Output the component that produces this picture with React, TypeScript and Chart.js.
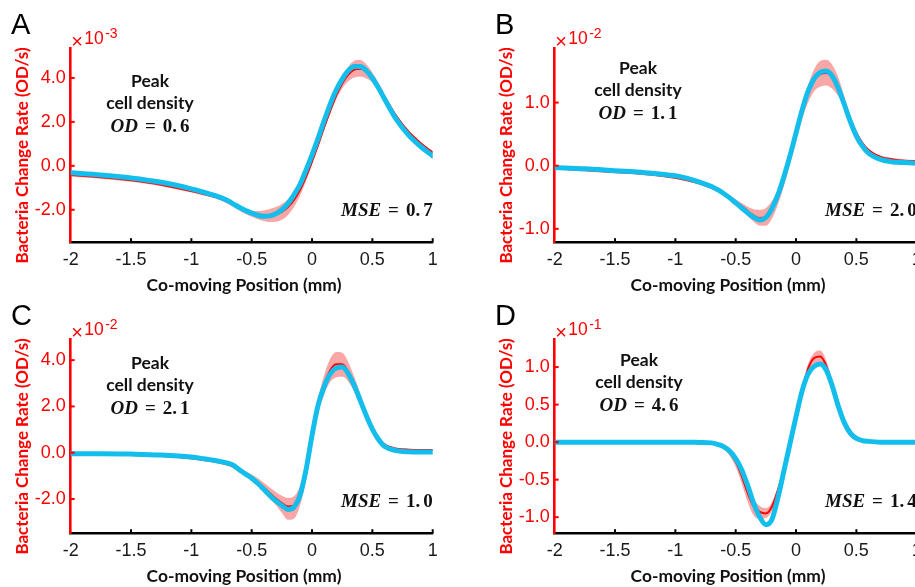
import { useEffect, useRef } from 'react';
import { Chart, registerables } from 'chart.js';

Chart.register(...registerables);

// Shared co-moving positions (mm)
const X_POS = [-2, -1.75, -1.5, -1.25, -1, -0.9, -0.8, -0.7, -0.65, -0.6, -0.55, -0.5, -0.45, -0.4, -0.35, -0.3, -0.25, -0.2, -0.15, -0.1, -0.05, 0, 0.05, 0.1, 0.15, 0.2, 0.25, 0.3, 0.35, 0.4, 0.45, 0.5, 0.55, 0.6, 0.7, 0.8, 0.9, 1];
const X_TICKS = [-2, -1.5, -1, -0.5, 0, 0.5, 1];

// Panel A (x1e-3)
const A_FIT = [-0.32, -0.42, -0.55, -0.75, -1.05, -1.2, -1.36, -1.58, -1.74, -1.9, -2.04, -2.15, -2.25, -2.3, -2.28, -2.18, -2.0, -1.72, -1.32, -0.85, -0.2, 0.5, 1.25, 2.05, 2.8, 3.45, 3.95, 4.33, 4.52, 4.52, 4.33, 4.0, 3.55, 3.05, 2.1, 1.4, 0.88, 0.45];
const A_MEAN = [-0.42, -0.52, -0.66, -0.86, -1.15, -1.28, -1.42, -1.64, -1.8, -1.95, -2.08, -2.18, -2.25, -2.28, -2.27, -2.22, -2.1, -1.88, -1.55, -1.1, -0.5, 0.2, 0.95, 1.75, 2.5, 3.2, 3.75, 4.15, 4.38, 4.42, 4.3, 4.02, 3.62, 3.15, 2.25, 1.55, 1.03, 0.6];
const A_UPPER = [-0.35, -0.45, -0.59, -0.79, -1.08, -1.21, -1.35, -1.57, -1.72, -1.86, -1.97, -2.04, -2.06, -2.03, -1.97, -1.88, -1.74, -1.52, -1.22, -0.85, -0.32, 0.35, 1.08, 1.88, 2.65, 3.38, 4.0, 4.5, 4.78, 4.82, 4.62, 4.25, 3.78, 3.27, 2.33, 1.62, 1.1, 0.67];
const A_LOWER = [-0.49, -0.59, -0.73, -0.93, -1.22, -1.35, -1.49, -1.71, -1.88, -2.04, -2.19, -2.32, -2.43, -2.51, -2.56, -2.55, -2.46, -2.25, -1.88, -1.36, -0.7, 0.05, 0.82, 1.62, 2.35, 3.02, 3.52, 3.85, 4.02, 4.05, 3.98, 3.8, 3.46, 3.03, 2.17, 1.48, 0.96, 0.53];
const A_Y_TICKS = [-2, 0, 2, 4];

// Panel B (x1e-2)
const B_FIT = [-0.03, -0.05, -0.08, -0.11, -0.16, -0.2, -0.26, -0.33, -0.38, -0.44, -0.51, -0.59, -0.67, -0.75, -0.82, -0.86, -0.82, -0.68, -0.46, -0.17, 0.16, 0.52, 0.88, 1.18, 1.38, 1.48, 1.5, 1.42, 1.23, 0.97, 0.7, 0.47, 0.31, 0.2, 0.1, 0.06, 0.05, 0.04];
const B_MEAN = [-0.04, -0.07, -0.1, -0.13, -0.19, -0.23, -0.28, -0.35, -0.39, -0.44, -0.5, -0.57, -0.64, -0.72, -0.79, -0.83, -0.81, -0.7, -0.5, -0.22, 0.11, 0.47, 0.84, 1.14, 1.35, 1.45, 1.47, 1.41, 1.25, 1.0, 0.74, 0.52, 0.36, 0.25, 0.14, 0.1, 0.08, 0.07];
const B_UPPER = [-0.02, -0.05, -0.08, -0.11, -0.17, -0.21, -0.26, -0.33, -0.37, -0.42, -0.47, -0.53, -0.59, -0.65, -0.69, -0.7, -0.67, -0.56, -0.38, -0.12, 0.2, 0.56, 0.95, 1.28, 1.53, 1.66, 1.68, 1.6, 1.4, 1.1, 0.8, 0.56, 0.39, 0.27, 0.16, 0.12, 0.1, 0.09];
const B_LOWER = [-0.06, -0.09, -0.12, -0.15, -0.21, -0.25, -0.3, -0.37, -0.42, -0.47, -0.54, -0.62, -0.7, -0.8, -0.89, -0.95, -0.95, -0.84, -0.62, -0.32, 0.02, 0.38, 0.73, 1.0, 1.18, 1.25, 1.27, 1.22, 1.1, 0.9, 0.68, 0.48, 0.33, 0.23, 0.12, 0.08, 0.06, 0.05];
const B_Y_TICKS = [-1, 0, 1];

// Panel C (x1e-2)
const C_FIT = [-0.04, -0.04, -0.06, -0.1, -0.19, -0.26, -0.34, -0.45, -0.55, -0.75, -0.93, -1.1, -1.32, -1.58, -1.85, -2.08, -2.28, -2.45, -2.35, -1.85, -0.75, 0.75, 2.05, 2.85, 3.4, 3.66, 3.7, 3.42, 2.9, 2.25, 1.6, 1.02, 0.58, 0.28, 0.09, 0.04, 0.03, 0.03];
const C_MEAN = [-0.05, -0.06, -0.09, -0.14, -0.24, -0.31, -0.39, -0.5, -0.6, -0.76, -0.92, -1.08, -1.27, -1.5, -1.75, -1.98, -2.18, -2.33, -2.28, -1.85, -0.85, 0.6, 2.0, 2.92, 3.55, 3.82, 3.82, 3.5, 2.95, 2.3, 1.65, 1.08, 0.65, 0.36, 0.17, 0.13, 0.12, 0.12];
const C_UPPER = [-0.01, -0.02, -0.05, -0.1, -0.19, -0.26, -0.33, -0.43, -0.52, -0.66, -0.8, -0.94, -1.1, -1.3, -1.5, -1.7, -1.86, -1.95, -1.88, -1.45, -0.5, 0.9, 2.35, 3.35, 4.05, 4.35, 4.32, 3.92, 3.28, 2.55, 1.83, 1.2, 0.73, 0.42, 0.21, 0.17, 0.16, 0.16];
const C_LOWER = [-0.09, -0.1, -0.13, -0.18, -0.29, -0.36, -0.45, -0.57, -0.68, -0.86, -1.04, -1.22, -1.44, -1.7, -2.0, -2.26, -2.6, -2.9, -2.85, -2.3, -1.2, 0.3, 1.65, 2.5, 3.05, 3.25, 3.28, 3.08, 2.62, 2.05, 1.47, 0.96, 0.57, 0.3, 0.13, 0.09, 0.08, 0.08];
const C_Y_TICKS = [-2, 0, 2, 4];

// Panel D (x1e-1)
const D_FIT = [0, 0, 0, 0, 0, 0, -0.005, -0.01, -0.03, -0.06, -0.12, -0.22, -0.37, -0.58, -0.82, -1.0, -1.1, -1.03, -0.74, -0.38, -0.02, 0.34, 0.68, 0.91, 1.01, 1.04, 0.96, 0.75, 0.48, 0.26, 0.12, 0.05, 0.02, 0.01, 0, 0, 0, 0];
const D_MEAN = [0, 0, 0, 0, 0, 0, -0.005, -0.015, -0.035, -0.07, -0.14, -0.26, -0.45, -0.68, -0.86, -0.93, -0.95, -0.86, -0.64, -0.36, -0.05, 0.3, 0.68, 0.98, 1.12, 1.14, 1.02, 0.76, 0.46, 0.23, 0.1, 0.04, 0.015, 0.005, 0, 0, 0, 0];
const D_UPPER = [0.01, 0.01, 0.01, 0.01, 0.01, 0.01, 0.005, -0.005, -0.02, -0.05, -0.1, -0.19, -0.35, -0.57, -0.76, -0.85, -0.88, -0.8, -0.58, -0.31, 0.0, 0.35, 0.73, 1.04, 1.19, 1.22, 1.09, 0.82, 0.51, 0.27, 0.13, 0.06, 0.03, 0.015, 0.01, 0.01, 0.01, 0.01];
const D_LOWER = [-0.01, -0.01, -0.01, -0.01, -0.01, -0.01, -0.015, -0.025, -0.05, -0.09, -0.18, -0.33, -0.55, -0.8, -0.98, -1.02, -1.01, -0.92, -0.7, -0.41, -0.1, 0.25, 0.63, 0.92, 1.04, 1.06, 0.95, 0.7, 0.41, 0.19, 0.07, 0.02, 0.0, -0.005, -0.01, -0.01, -0.01, -0.01];
const D_Y_TICKS = [-1, -0.5, 0, 0.5, 1];

const RED = '#FF0000';
const CYAN = '#14BEEC';
const BAND = 'rgba(240, 20, 20, 0.38)';
const LABEL_FONT = 'Lato, "Open Sans", sans-serif';
const SANS = '"Liberation Sans", Arial, sans-serif';
const SERIF = '"Liberation Serif", "Times New Roman", serif';

type Panel = {
  letter: string;
  exponent: string;
  od: string;
  mse: string;
  fit: number[];
  mean: number[];
  upper: number[];
  lower: number[];
  yTicks: number[];
  yMin: number;
  yMax: number;
  left: number;
  top: number;
  textX: number;
  textY: number;
};

const PANELS: Panel[] = [
  { letter: 'A', exponent: '-3', od: '0.6', mse: '0.7', fit: A_FIT, mean: A_MEAN, upper: A_UPPER, lower: A_LOWER, yTicks: A_Y_TICKS, yMin: -3.5, yMax: 5.35, left: 0, top: 0, textX: 150, textY: 81 },
  { letter: 'B', exponent: '-2', od: '1.1', mse: '2.0', fit: B_FIT, mean: B_MEAN, upper: B_UPPER, lower: B_LOWER, yTicks: B_Y_TICKS, yMin: -1.22, yMax: 1.86, left: 484, top: 0, textX: 154, textY: 68 },
  { letter: 'C', exponent: '-2', od: '2.1', mse: '1.0', fit: C_FIT, mean: C_MEAN, upper: C_UPPER, lower: C_LOWER, yTicks: C_Y_TICKS, yMin: -3.5, yMax: 4.9, left: 0, top: 291, textX: 150, textY: 72 },
  { letter: 'D', exponent: '-1', od: '4.6', mse: '1.4', fit: D_FIT, mean: D_MEAN, upper: D_UPPER, lower: D_LOWER, yTicks: D_Y_TICKS, yMin: -1.22, yMax: 1.37, left: 484, top: 291, textX: 155, textY: 69 },
];

const W = 460;
const H = 296;
const AXIS_BOTTOM = 242.7;
const AXIS_RIGHT = 432.7;

const pts = (ys: number[]) => X_POS.map((x, i) => ({ x, y: ys[i] }));

// Draws e.g. "OD = 0.6" in a math-like style: italic variable, spaced "=", value.
function drawMath(ctx: CanvasRenderingContext2D, variable: string, value: string, x: number, y: number, align: 'center' | 'right') {
  const size = 19;
  const ital = `italic bold ${size}px ${SERIF}`;
  const bold = `bold ${size}px ${SERIF}`;
  const dot = value.indexOf('.');
  const intPart = dot >= 0 ? value.slice(0, dot + 1) : value;
  const fracPart = dot >= 0 ? value.slice(dot + 1) : '';
  const gapEq = 7;
  const gapDot = 3;
  ctx.font = ital;
  const wVar = ctx.measureText(variable).width;
  ctx.font = bold;
  const wEq = ctx.measureText('=').width;
  const wInt = ctx.measureText(intPart).width;
  const wFrac = ctx.measureText(fracPart).width;
  const total = wVar + gapEq + wEq + gapEq + wInt + gapDot + wFrac;
  let cx = align === 'center' ? x - total / 2 : x - total;
  ctx.textAlign = 'left';
  ctx.font = ital;
  ctx.fillText(variable, cx, y);
  cx += wVar + gapEq;
  ctx.font = bold;
  ctx.fillText('=', cx, y);
  cx += wEq + gapEq;
  ctx.fillText(intPart, cx, y);
  cx += wInt + gapDot;
  ctx.fillText(fracPart, cx, y);
}

function makePlugin(p: Panel) {
  return {
    id: 'annot' + p.letter,
    afterDraw(chart: any) {
      const { ctx, chartArea: ca, scales } = chart;
      const xs = scales.x;
      const ys = scales.y;
      ctx.save();
      // inward tick marks
      ctx.lineWidth = 2;
      ctx.strokeStyle = '#000';
      X_TICKS.forEach((v) => {
        if (v === X_TICKS[0]) return;
        const px = xs.getPixelForValue(v);
        ctx.beginPath();
        ctx.moveTo(px, ca.bottom);
        ctx.lineTo(px, ca.bottom - 4.5);
        ctx.stroke();
      });
      ctx.strokeStyle = RED;
      p.yTicks.forEach((v) => {
        const py = ys.getPixelForValue(v);
        ctx.beginPath();
        ctx.moveTo(ca.left, py);
        ctx.lineTo(ca.left + 4, py);
        ctx.stroke();
      });

      // panel letter
      ctx.fillStyle = '#000';
      ctx.textBaseline = 'alphabetic';
      ctx.textAlign = 'left';
      ctx.font = `29px ${SANS}`;
      ctx.fillText(p.letter, 11, 34);

      // exponent label
      ctx.fillStyle = RED;
      ctx.font = `20px ${SANS}`;
      ctx.fillText('\u00d7', ca.left + 0.5, 47.5);
      ctx.font = `17.5px ${SANS}`;
      ctx.fillText('10', ca.left + 13.5, 44);
      ctx.font = `14px ${SANS}`;
      ctx.fillText(p.exponent, ca.left + 34.5, 38);

      // peak density text
      ctx.fillStyle = '#111';
      ctx.textAlign = 'center';
      ctx.textBaseline = 'middle';
      ctx.font = `bold 17.5px ${LABEL_FONT}`;
      ctx.fillText('Peak', p.textX, p.textY);
      ctx.fillText('cell density', p.textX, p.textY + 22.5);
      ctx.textBaseline = 'alphabetic';
      drawMath(ctx, 'OD', p.od, p.textX, p.textY + 51, 'center');

      // MSE text
      drawMath(ctx, 'MSE', p.mse, ca.right, ca.bottom - 27, 'right');

      // axis titles
      ctx.fillStyle = '#111';
      ctx.textAlign = 'center';
      ctx.textBaseline = 'middle';
      ctx.font = `bold 17.4px ${LABEL_FONT}`;
      ctx.fillText('Co-moving Position (mm)', 244, 285);

      ctx.fillStyle = RED;
      ctx.translate(23, 155.5);
      ctx.rotate(-Math.PI / 2);
      ctx.font = `bold 17px ${LABEL_FONT}`;
      ctx.fillText('Bacteria Change Rate (OD/s)', 0, 0);
      ctx.restore();
    },
  };
}

function PanelChart({ p }: { p: Panel }) {
  const ref = useRef<HTMLCanvasElement | null>(null);
  useEffect(() => {
    if (!ref.current) return;
    const common = { pointRadius: 0, cubicInterpolationMode: 'monotone' as const };
    const chart = new Chart(ref.current, {
      type: 'line',
      data: {
        datasets: [
          { label: 'Model fit', data: pts(p.fit), borderColor: CYAN, borderWidth: 5, borderCapStyle: 'round', fill: false, ...common },
          { label: 'Experiment mean', data: pts(p.mean), borderColor: RED, borderWidth: 2, fill: false, ...common },
          { label: 'Upper', data: pts(p.upper), borderColor: 'rgba(0,0,0,0)', borderWidth: 0, backgroundColor: BAND, fill: '+1', ...common },
          { label: 'Lower', data: pts(p.lower), borderColor: 'rgba(0,0,0,0)', borderWidth: 0, fill: false, ...common },
        ],
      },
      options: {
        responsive: false,
        animation: false,
        devicePixelRatio: 1,
        layout: { padding: { left: 0, top: 48.3, right: W - AXIS_RIGHT, bottom: 0 } },
        plugins: { legend: { display: false }, tooltip: { enabled: false } },
        scales: {
          x: {
            type: 'linear',
            min: -2,
            max: 1,
            grid: { display: false, drawTicks: false },
            border: { display: true, color: '#000', width: 2.6 },
            afterBuildTicks: (s: any) => { s.ticks = X_TICKS.map((v) => ({ value: v })); },
            afterFit: (s: any) => { s.height = H - AXIS_BOTTOM; },
            ticks: {
              color: '#1a1a1a',
              font: { family: SANS, size: 18 },
              padding: 7,
              maxRotation: 0,
              autoSkip: false,
              callback: (v: any) => String(v),
            },
          },
          y: {
            type: 'linear',
            min: p.yMin,
            max: p.yMax,
            grid: { display: false, drawTicks: false },
            border: { display: true, color: RED, width: 2.6 },
            afterBuildTicks: (s: any) => { s.ticks = p.yTicks.map((v) => ({ value: v })); },
            afterFit: (s: any) => { s.width = 70.7; },
            ticks: {
              color: RED,
              font: { family: SANS, size: 18 },
              padding: 5,
              autoSkip: false,
              callback: (v: any) => Number(v).toFixed(1),
            },
          },
        },
      },
      plugins: [makePlugin(p)],
    } as any);
    return () => chart.destroy();
  }, [p]);
  return (
    <canvas
      ref={ref}
      width={W}
      height={H}
      style={{ position: 'absolute', left: p.left, top: p.top, width: W, height: H }}
    />
  );
}

export default function App() {
  return (
    <div style={{ position: 'absolute', left: 0, top: 0, width: 915, height: 587, overflow: 'hidden', background: '#fff' }}>
      {PANELS.map((p) => (
        <PanelChart key={p.letter} p={p} />
      ))}
    </div>
  );
}
